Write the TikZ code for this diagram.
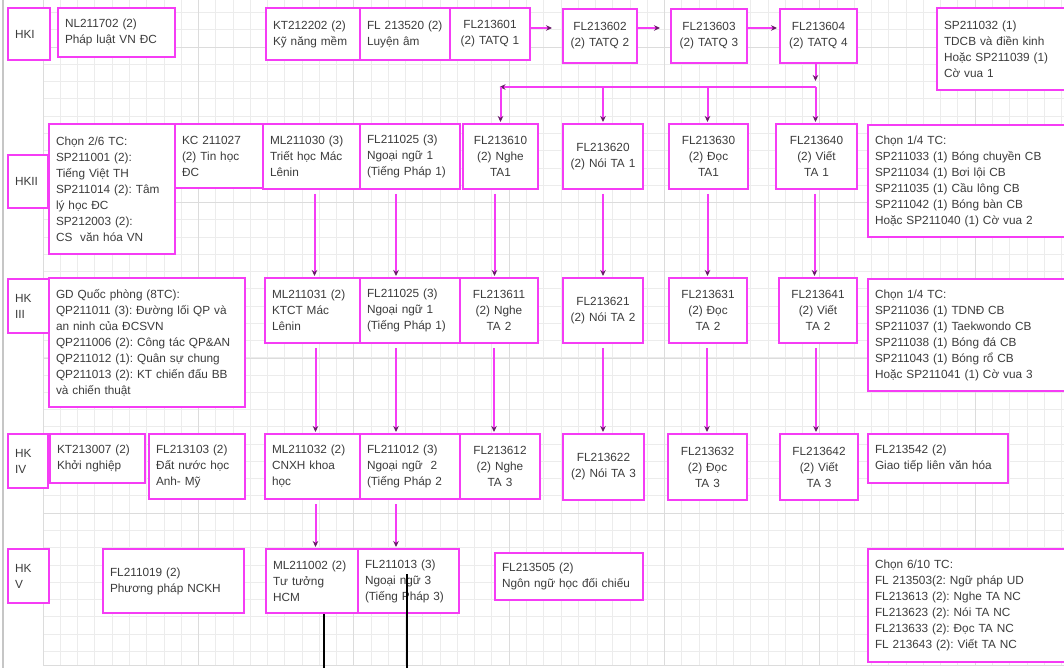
\documentclass[tikz,border=0pt]{standalone}
\usepackage{fontspec}
\setmainfont{Liberation Sans}
\usetikzlibrary{arrows.meta}
\definecolor{mag}{RGB}{245,60,245}
\definecolor{tipc}{RGB}{105,25,105}
\definecolor{txt}{RGB}{60,60,60}
\definecolor{gridc}{RGB}{236,236,236}
\definecolor{gridm}{RGB}{220,220,220}
\tikzset{
  box/.style={draw=mag,line width=2pt,fill=white,inner ysep=2pt,text=txt,
    font=\fontsize{11.8}{16}\selectfont\frenchspacing},
  conn/.style={draw=mag,line width=2pt},
  tipd/.style={-{Stealth[length=6pt,width=5.5pt,color=tipc]}},
  blk/.style={draw=black,line width=1.5pt}
}
\newcommand\lbox[6]{%
  \pgfmathsetmacro\bw{#4-#2}%
  \pgfmathsetmacro\bh{#5-#3}%
  \pgfmathsetmacro\tw{#4-#2-14}%
  \node[box,inner xsep=7pt,align=left,minimum width=\bw pt,minimum height=\bh pt,text width=\tw pt]
    (#1) at ({(#2+#4)/2},{(#3+#5)/2}) {#6};}
\newcommand\cbox[6]{%
  \pgfmathsetmacro\bw{#4-#2}%
  \pgfmathsetmacro\bh{#5-#3}%
  \pgfmathsetmacro\tw{#4-#2-6}%
  \node[box,inner xsep=3pt,align=center,minimum width=\bw pt,minimum height=\bh pt,text width=\tw pt]
    (#1) at ({(#2+#4)/2},{(#3+#5)/2}) {#6};}
\begin{document}
\begin{tikzpicture}[x=1pt,y=-1pt]
\useasboundingbox[fill=white] (0,0) rectangle (1064,668);
% grid
\foreach \i in {0,...,59} {
  \pgfmathsetmacro\gx{43+17.26*\i}
  \draw[gridc,line width=0.6pt] (\gx,0) -- (\gx,665);
}
\foreach \i in {-3,...,36} {
  \pgfmathsetmacro\gy{47+17.26*\i}
  \draw[gridc,line width=0.6pt] (43,\gy) -- (1064,\gy);
}
\foreach \gx in {43,198,353,509,664,819,975} \draw[gridm,line width=0.7pt] (\gx,0) -- (\gx,665);
\foreach \gy in {47,202,358,513} \draw[gridm,line width=0.7pt] (43,\gy) -- (1064,\gy);
\draw[gridm,line width=0.8pt] (43,665) -- (1064,665);
\draw[gray!45,line width=1.5pt] (3,0) -- (3,668);

% Row HK I
\lbox{hk1}{8}{8}{50}{60}{HKI}
\lbox{nl}{58}{8}{175}{57}{NL211702 (2)\\Pháp luật VN ĐC}
\lbox{kt1}{266}{8}{360}{60}{KT212202 (2)\\Kỹ năng mềm}
\lbox{fl520}{360}{8}{450}{60}{FL 213520 (2)\\Luyện âm}
\cbox{q1}{450}{8}{530}{60}{FL213601\\(2) TATQ 1}
\cbox{q2}{563}{9}{637}{63}{FL213602\\(2) TATQ 2}
\cbox{q3}{671}{9}{747}{63}{FL213603\\(2) TATQ 3}
\cbox{q4}{780}{9}{857}{63}{FL213604\\(2) TATQ 4}
\lbox{sp1}{937}{8}{1070}{90}{SP211032 (1)\\TDCB và điền kinh\\Hoặc SP211039 (1)\\Cờ vua 1}

% Row HK II
\lbox{hk2}{8}{155}{48}{208}{HKII}
\lbox{c26}{49}{124}{175}{254}{Chọn 2/6 TC:\\SP211001 (2):\\Tiếng Việt TH\\SP211014 (2): Tâm\\lý học ĐC\\SP212003 (2):\\CS\ \ văn hóa VN}
\lbox{kc}{175}{124}{263}{188}{KC 211027\\(2) Tin học\\ĐC}
\lbox{ml30}{263}{124}{360}{189}{ML211030 (3)\\Triết học Mác\\Lênin}
\lbox{ng1}{360}{124}{460}{189}{FL211025 (3)\\Ngoại ngữ 1\\(Tiếng Pháp 1)}
\cbox{n1}{463}{124}{538}{189}{FL213610\\(2) Nghe\\TA1}
\cbox{s1}{563}{124}{643}{189}{FL213620\\(2) Nói TA 1}
\cbox{r1}{669}{124}{748}{189}{FL213630\\(2) Đọc\\TA1}
\cbox{w1}{776}{124}{857}{189}{FL213640\\(2) Viết\\TA 1}
\lbox{c14a}{868}{125}{1070}{237}{Chọn 1/4 TC:\\SP211033 (1) Bóng chuyền CB\\SP211034 (1) Bơi lội CB\\SP211035 (1) Cầu lông CB\\SP211042 (1) Bóng bàn CB\\Hoặc SP211040 (1) Cờ vua 2}

% Row HK III
\lbox{hk3}{8}{279}{50}{333}{HK\\III}
\lbox{gd}{49}{278}{245}{407}{GD Quốc phòng (8TC):\\QP211011 (3): Đường lối QP và\\an ninh của ĐCSVN\\QP211006 (2): Công tác QP\&AN\\QP211012 (1): Quân sự chung\\QP211013 (2): KT chiến đấu BB\\và chiến thuật}
\lbox{ml31}{265}{278}{360}{343}{ML211031 (2)\\KTCT Mác\\Lênin}
\lbox{ng1b}{360}{278}{460}{343}{FL211025 (3)\\Ngoại ngữ 1\\(Tiếng Pháp 1)}
\cbox{n2}{460}{278}{538}{343}{FL213611\\(2) Nghe\\TA 2}
\cbox{s2}{563}{278}{643}{343}{FL213621\\(2) Nói TA 2}
\cbox{r2}{669}{278}{747}{343}{FL213631\\(2) Đọc\\TA 2}
\cbox{w2}{779}{278}{857}{343}{FL213641\\(2) Viết\\TA 2}
\lbox{c14b}{868}{279}{1070}{391}{Chọn 1/4 TC:\\SP211036 (1) TDNĐ CB\\SP211037 (1) Taekwondo CB\\SP211038 (1) Bóng đá CB\\SP211043 (1) Bóng rổ CB\\Hoặc SP211041 (1) Cờ vua 3}

% Row HK IV
\lbox{hk4}{8}{434}{48}{488}{HK\\IV}
\lbox{kt07}{50}{434}{145}{483}{KT213007 (2)\\Khởi nghiệp}
\lbox{fl103}{149}{434}{245}{499}{FL213103 (2)\\Đất nước học\\Anh- Mỹ}
\lbox{ml32}{265}{434}{360}{499}{ML211032 (2)\\CNXH khoa\\học}
\lbox{ng2}{360}{434}{460}{499}{FL211012 (3)\\Ngoại ngữ\ \ 2\\(Tiếng Pháp 2}
\cbox{n3}{460}{434}{540}{499}{FL213612\\(2) Nghe\\TA 3}
\cbox{s3}{563}{434}{644}{500}{FL213622\\(2) Nói TA 3}
\cbox{r3}{668}{434}{747}{500}{FL213632\\(2) Đọc\\TA 3}
\cbox{w3}{780}{434}{858}{500}{FL213642\\(2) Viết\\TA 3}
\lbox{fl542}{868}{434}{1008}{483}{FL213542 (2)\\Giao tiếp liên văn hóa}

% Row HK V
\lbox{hk5}{8}{549}{49}{603}{HK\\V}
\lbox{fl19}{103}{549}{244}{613}{FL211019 (2)\\Phương pháp NCKH}
\lbox{ml02}{266}{549}{358}{613}{ML211002 (2)\\Tư tưởng\\HCM}
\lbox{ng3}{358}{549}{459}{613}{FL211013 (3)\\Ngoại ngữ 3\\(Tiếng Pháp 3)}
\lbox{fl505}{495}{553}{643}{600}{FL213505 (2)\\Ngôn ngữ học đối chiếu}
\lbox{c610}{868}{549}{1070}{662}{Chọn 6/10 TC:\\FL 213503(2: Ngữ pháp UD\\FL213613 (2): Nghe TA NC\\FL213623 (2): Nói TA NC\\FL213633 (2): Đọc TA NC\\FL 213643 (2): Viết TA NC}

% Row 1 arrows
\draw[conn,tipd,shorten >=10pt] ([yshift=6pt]q1.east) -- ([yshift=6pt]q1.east -| q2.west);
\draw[conn,tipd,shorten >=10pt] ([yshift=8pt]q2.east) -- ([yshift=8pt]q2.east -| q3.west);
\draw[conn,tipd,shorten >=2pt] ([yshift=8pt]q3.east) -- ([yshift=8pt]q3.east -| q4.west);

% bus from TATQ 4
\coordinate (busR) at ([xshift=-3pt,yshift=-23pt]q4.south);
\coordinate (busL) at (n1.north |- busR);
\coordinate (busS) at (s1.north |- busR);
\coordinate (busD) at ([xshift=-1pt]r1.north |- busR);
\draw[conn,tipd,shorten >=6pt] ([xshift=-3pt]q4.south) -- (busR);
\draw[conn,tipd,shorten >=-1pt] (busR) -- (busL);
\draw[conn,tipd,shorten >=1pt] (busR) -- (busR |- w1.north);
\draw[conn,tipd,shorten >=1pt] (busL) -- (n1.north);
\draw[conn,tipd,shorten >=1pt] (busS) -- (s1.north);
\draw[conn,tipd,shorten >=1pt] (busD) -- (busD |- r1.north);

% vertical chains
\foreach \a/\b/\dx in {ml30/ml31/3, ng1/ng1b/-14, n1/n2/-6, s1/s2/0, r1/r2/-1, w1/w2/-2,
    ml31/ml32/3, ng1b/ng2/-14, n2/n3/-5, s2/s3/0, r2/r3/-1, w2/w3/-2,
    ml32/ml02/3, ng2/ng3/-14}
  \draw[conn,tipd,shorten <=4pt,shorten >=1pt] ([xshift=\dx pt]\a.south) -- ([xshift=\dx pt]\a.south |- \b.north);

% black lines
\coordinate (b1) at (324,670);
\coordinate (b2t) at (407,574);
\coordinate (b2) at (407,670);
\draw[blk] (ml02.south -| b1) -- (b1);
\draw[blk] (b2t) -- (b2);
\end{tikzpicture}
\end{document}
